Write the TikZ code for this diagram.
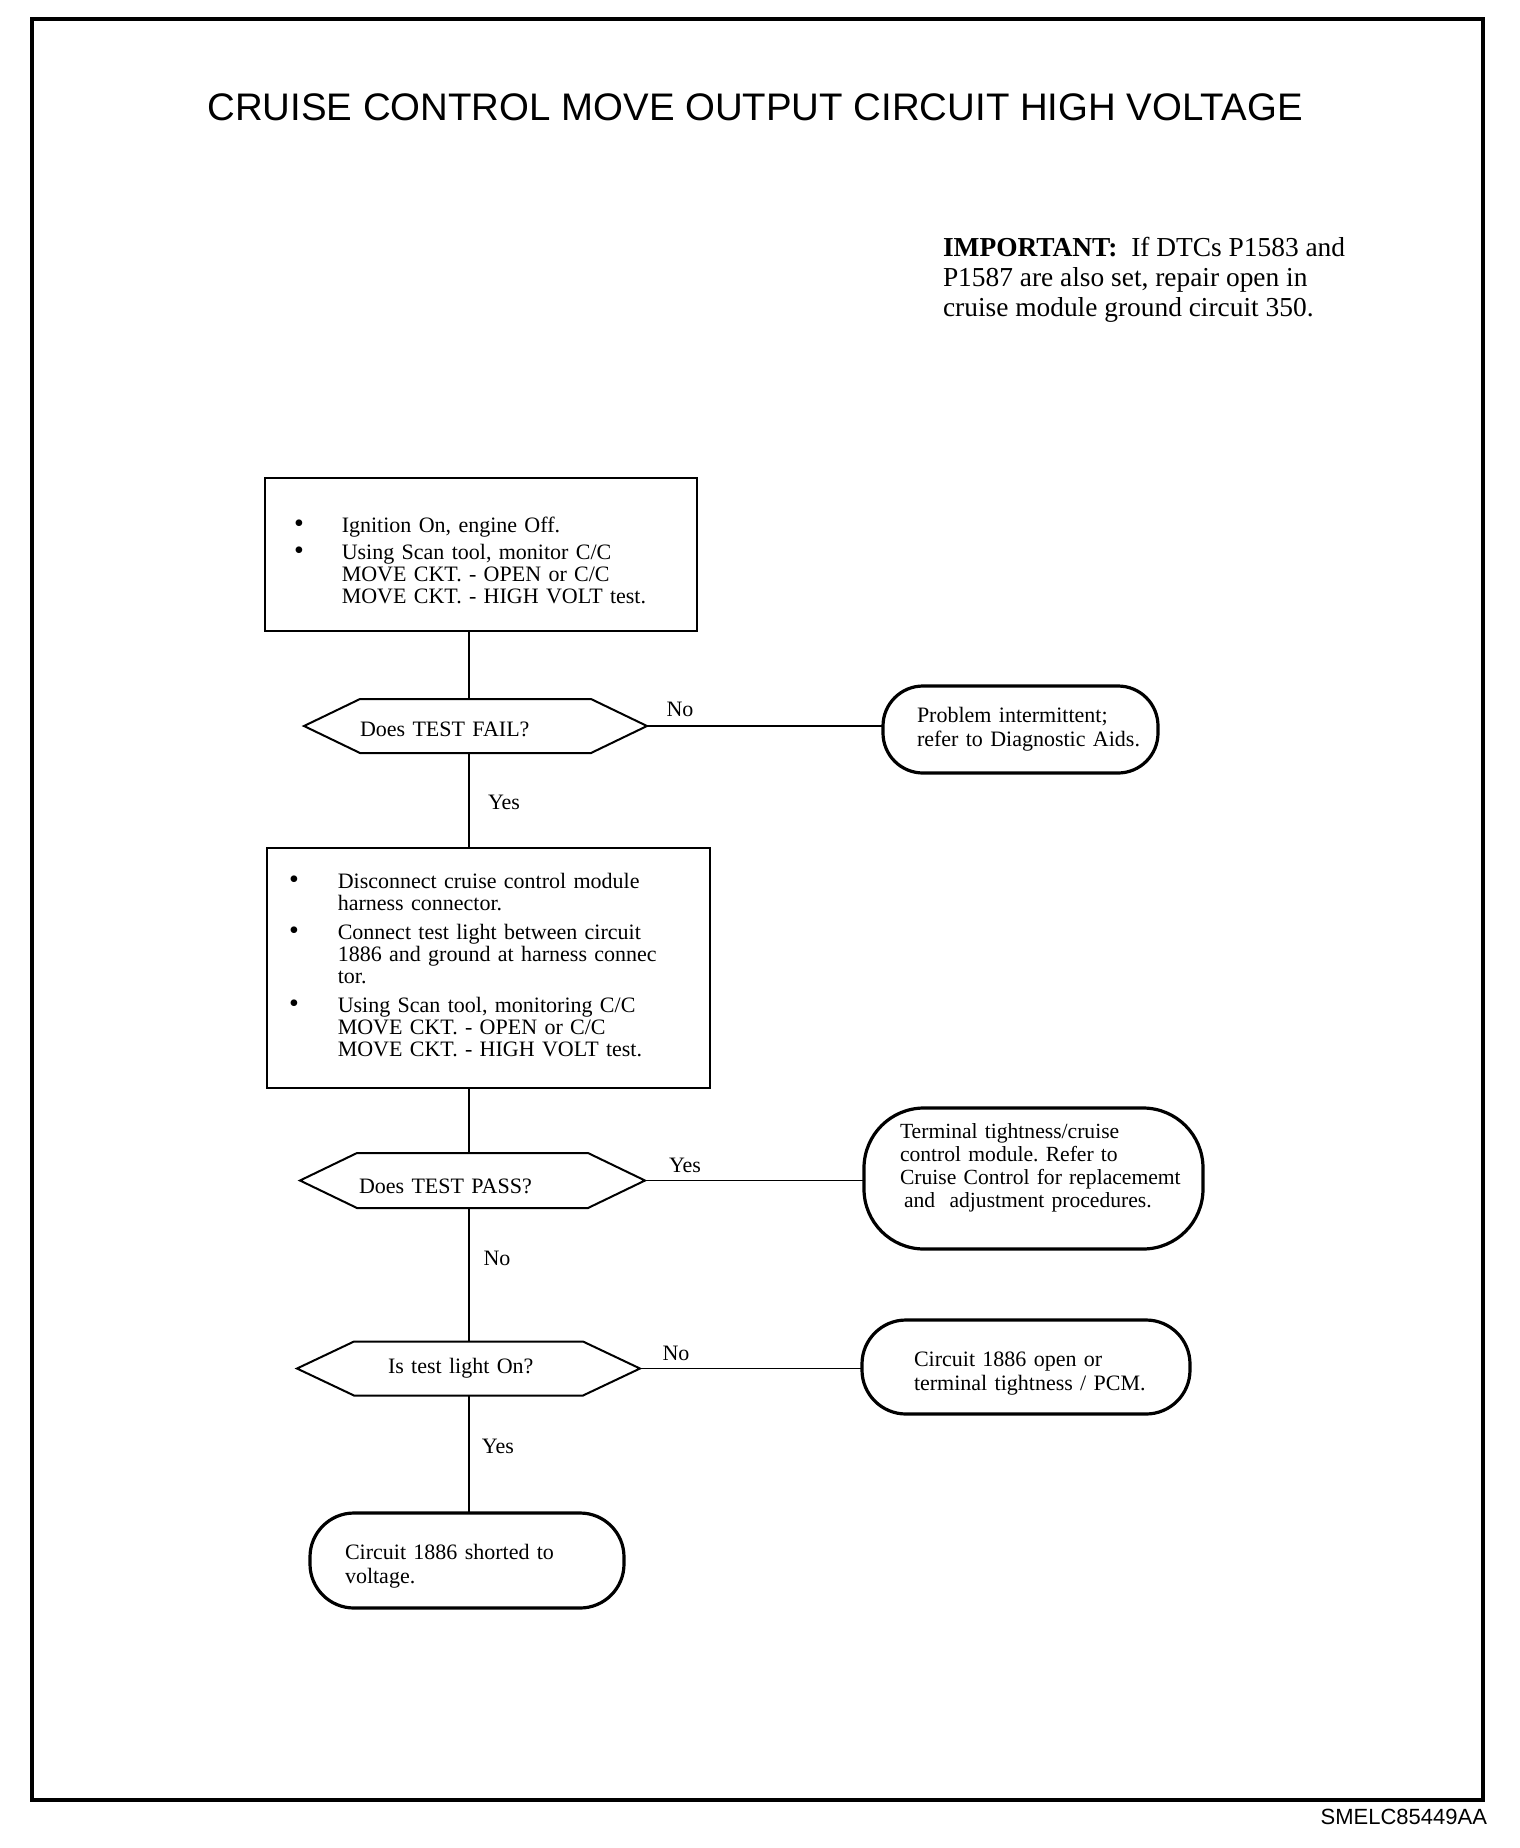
\documentclass[tikz,border=0pt]{standalone}
\usepackage{fontspec}
\setmainfont{Liberation Serif}
\newfontfamily\arialf{Liberation Sans}
\usetikzlibrary{calc}
\frenchspacing
\newcommand\hexdraw[2]{\draw[hexline] (#1.west) -- ([xshift=#2]#1.north west) -- ([xshift=-#2]#1.north east) -- (#1.east) -- ([xshift=-#2]#1.south east) -- ([xshift=#2]#1.south west) -- cycle;}
\newcommand\bul{{\fontsize{14}{11}\selectfont\textbullet}}
\newcommand\downby[2]{\raisebox{0pt}[\dimexpr\height+#1\relax][\depth]{#2}}
\newcommand\upby[2]{\raisebox{0pt}[\height][\dimexpr\depth+#1\relax]{#2}}
\begin{document}
\begin{tikzpicture}[x=0.5pt,y=-0.5pt,
  every node/.style={inner sep=0pt, outer sep=0pt},
  stepbox/.style={draw, line width=1pt, align=left, font=\fontsize{11}{11}\selectfont},
  term/.style={draw, line width=1.6pt, align=left, font=\fontsize{11}{11.8}\selectfont},
  hexnode/.style={align=left, font=\fontsize{11}{11}\selectfont},
  hexline/.style={line width=1pt},
  conn/.style={line width=0.65pt},
  lbl/.style={font=\fontsize{11}{11}\selectfont}]
\useasboundingbox (0,0) rectangle (1520,1848);
\draw[line width=2pt] (32,19) rectangle (1483,1800);

\node[font=\arialf\fontsize{19.2}{19.2}\selectfont] (title) at (755,107) {CRUISE CONTROL MOVE OUTPUT CIRCUIT HIGH VOLTAGE};

\node[align=left, anchor=west, font=\fontsize{13.7}{15}\selectfont] (imp) at (943,280) {\textbf{IMPORTANT:}\ \ If DTCs P1583 and\\P1587 are also set, repair open in\\cruise module ground circuit 350.};

\node[stepbox, minimum width=216pt, minimum height=76.5pt, text width=187pt, inner xsep=14.5pt] (b1) at (481,554.5) {\downby{9pt}{\begin{tabular}{@{}l@{\hspace{19pt}}l@{}}
\bul & Ignition On, engine Off.\\[2.5pt]
\bul & Using Scan tool, monitor C/C\\
 & MOVE CKT. - OPEN or C/C\\
 & MOVE CKT. - HIGH VOLT test.
\end{tabular}}};

\node[hexnode, minimum width=171.5pt, minimum height=27pt, text width=115.5pt, inner xsep=28pt, text height=10.3pt, text depth=0pt] (d1) at (475.5,726) {Does TEST FAIL?};
\hexdraw{d1}{28pt}

\node[term, rounded corners=20pt, minimum width=137.5pt, minimum height=43.5pt, text width=103.5pt, inner xsep=17pt] (t1) at (1020.5,729.5) {\begin{tabular}{@{}l@{}}Problem intermittent;\\refer to Diagnostic Aids.\end{tabular}};

\node[stepbox, minimum width=221.5pt, minimum height=120pt, text width=199.5pt, inner xsep=11pt] (b2) at (488.5,968) {\begin{tabular}{@{}l@{\hspace{19.5pt}}l@{}}
\bul & Disconnect cruise control module\\
 & harness connector.\\[3.5pt]
\bul & Connect test light between circuit\\
 & 1886 and ground at harness connec\\
 & tor.\\[3.5pt]
\bul & Using Scan tool, monitoring C/C\\
 & MOVE CKT. - OPEN or C/C\\
 & MOVE CKT. - HIGH VOLT test.
\end{tabular}};

\node[hexnode, minimum width=172.5pt, minimum height=27.5pt, text width=113.5pt, inner xsep=29.5pt, text height=13.3pt, text depth=0pt] (d2) at (472.5,1180.5) {Does TEST PASS?};
\hexdraw{d2}{28.5pt}

\node[term, rounded corners=30pt, minimum width=169.5pt, minimum height=70.5pt, text width=133.5pt, inner xsep=18pt, font=\fontsize{10.8}{11.4}\selectfont] (t2) at (1033.5,1178.5) {\upby{10pt}{\begin{tabular}{@{}l@{}}Terminal tightness/cruise\\control module. Refer to\\Cruise Control for replacememt\\\hspace{2pt}and\ \ adjustment procedures.\end{tabular}}};

\node[hexnode, minimum width=171.5pt, minimum height=27pt, text width=80.5pt, inner xsep=45.5pt] (d3) at (468.5,1368.5) {Is test light On?};
\hexdraw{d3}{28.5pt}

\node[term, rounded corners=22pt, minimum width=164pt, minimum height=47pt, text width=112pt, inner xsep=26pt] (t3) at (1026,1367) {\downby{7pt}{\begin{tabular}{@{}l@{}}Circuit 1886 open or\\terminal tightness / PCM.\end{tabular}}};

\node[term, rounded corners=22pt, minimum width=157pt, minimum height=47.5pt, text width=122pt, inner xsep=17.5pt] (t4) at (467,1560.5) {\downby{6pt}{\begin{tabular}{@{}l@{}}Circuit 1886 shorted to\\voltage.\end{tabular}}};

\coordinate (vx) at (469,0);
\draw[conn] (b1.south -| vx) -- (d1.north -| vx);
\draw[conn] (d1.south -| vx) -- (b2.north -| vx);
\draw[conn] (b2.south -| vx) -- (d2.north -| vx);
\draw[conn] (d2.south -| vx) -- (d3.north -| vx);
\draw[conn] (d3.south -| vx) -- (t4.north -| vx);
\draw[conn] (d1.east) -- (d1.east -| t1.west);
\draw[conn] (d2.east) -- (d2.east -| t2.west);
\draw[conn] (d3.east) -- (d3.east -| t3.west);

\node[lbl] (l1) at (680,709) {No};
\node[lbl] (l2) at (504,802) {Yes};
\node[lbl] (l3) at (685,1165) {Yes};
\node[lbl] (l4) at (497,1258) {No};
\node[lbl] (l5) at (676,1353) {No};
\node[lbl] (l6) at (498,1446) {Yes};

\node[font=\arialf\fontsize{11}{11}\selectfont, anchor=east] (code) at (1487,1817) {SMELC85449AA};
\end{tikzpicture}
\end{document}
